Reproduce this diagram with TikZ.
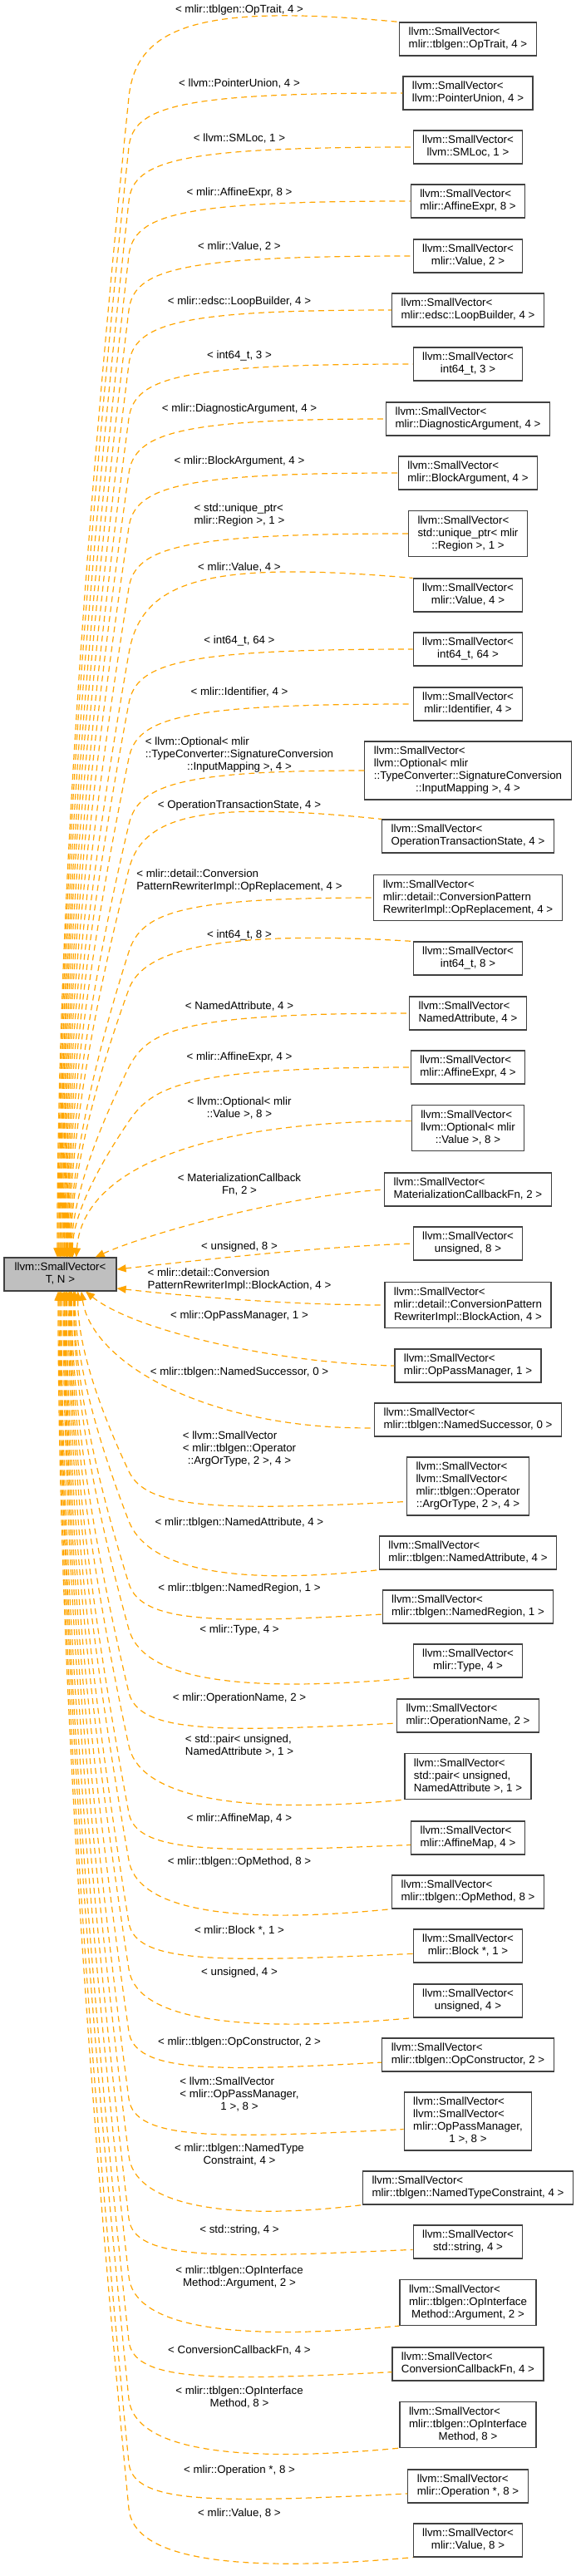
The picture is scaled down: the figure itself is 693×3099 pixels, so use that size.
\documentclass[tikz,border=0pt]{standalone}
\usepackage{fontspec}
\setmainfont{Liberation Sans}
\usetikzlibrary{arrows.meta}
\definecolor{inhorange}{HTML}{FFA500}
\newcommand{\tpl}[2]{\begin{tabular}{@{}l@{}}#1\\\multicolumn{1}{@{}c@{}}{#2}\end{tabular}}

\begin{document}
\begin{tikzpicture}[
    x=1pt, y=-1pt,
    cls/.style={draw=black!75, line width=1.2pt, fill=white, inner xsep=11pt, inner ysep=5pt,
                font=\fontsize{13.3}{15}\selectfont},
    arg/.style={inner sep=0pt, font=\fontsize{13.3}{15}\selectfont},
    inh/.style={{Triangle[length=11pt,width=9pt]}-, inhorange, line width=1.2pt, dash pattern=on 7pt off 5pt},
]
\useasboundingbox (0,0) rectangle (693,3099);

% Base template
\node[cls, fill=black!25, minimum width=135pt, minimum height=40pt] (base) at (72.5,1533) {\tpl{llvm::SmallVector<}{T, N >}};

% Instantiations
\node[cls] (b1)  at (563,47)   {\tpl{llvm::SmallVector<}{mlir::tblgen::OpTrait, 4 >}};
\node[cls] (b2)  at (563,112)  {\tpl{llvm::SmallVector<}{llvm::PointerUnion, 4 >}};
\node[cls] (b3)  at (563,177)  {\tpl{llvm::SmallVector<}{llvm::SMLoc, 1 >}};
\node[cls] (b4)  at (563,242)  {\tpl{llvm::SmallVector<}{mlir::AffineExpr, 8 >}};
\node[cls] (b5)  at (563,308)  {\tpl{llvm::SmallVector<}{mlir::Value, 2 >}};
\node[cls] (b6)  at (563,373)  {\tpl{llvm::SmallVector<}{mlir::edsc::LoopBuilder, 4 >}};
\node[cls] (b7)  at (563,438)  {\tpl{llvm::SmallVector<}{int64\_t, 3 >}};
\node[cls] (b8)  at (563,504)  {\tpl{llvm::SmallVector<}{mlir::DiagnosticArgument, 4 >}};
\node[cls] (b9)  at (563,569)  {\tpl{llvm::SmallVector<}{mlir::BlockArgument, 4 >}};
\node[cls] (b10) at (563,642)  {\tpl{llvm::SmallVector<\\std::unique\_ptr< mlir}{::Region >, 1 >}};
\node[cls] (b11) at (563,716)  {\tpl{llvm::SmallVector<}{mlir::Value, 4 >}};
\node[cls] (b12) at (563,781)  {\tpl{llvm::SmallVector<}{int64\_t, 64 >}};
\node[cls] (b13) at (563,847)  {\tpl{llvm::SmallVector<}{mlir::Identifier, 4 >}};
\node[cls] (b14) at (563,927)  {\tpl{llvm::SmallVector<\\llvm::Optional< mlir\\::TypeConverter::SignatureConversion}{::InputMapping >, 4 >}};
\node[cls] (b15) at (563,1006) {\tpl{llvm::SmallVector<}{OperationTransactionState, 4 >}};
\node[cls] (b16) at (563,1080) {\tpl{llvm::SmallVector<\\mlir::detail::ConversionPattern}{RewriterImpl::OpReplacement, 4 >}};
\node[cls] (b17) at (563,1153) {\tpl{llvm::SmallVector<}{int64\_t, 8 >}};
\node[cls] (b18) at (563,1219) {\tpl{llvm::SmallVector<}{NamedAttribute, 4 >}};
\node[cls] (b19) at (563,1284) {\tpl{llvm::SmallVector<}{mlir::AffineExpr, 4 >}};
\node[cls] (b20) at (563,1357) {\tpl{llvm::SmallVector<\\llvm::Optional< mlir}{::Value >, 8 >}};
\node[cls] (b21) at (563,1431) {\tpl{llvm::SmallVector<}{MaterializationCallbackFn, 2 >}};
\node[cls] (b22) at (563,1496) {\tpl{llvm::SmallVector<}{unsigned, 8 >}};
\node[cls] (b23) at (563,1570) {\tpl{llvm::SmallVector<\\mlir::detail::ConversionPattern}{RewriterImpl::BlockAction, 4 >}};
\node[cls] (b24) at (563,1643) {\tpl{llvm::SmallVector<}{mlir::OpPassManager, 1 >}};
\node[cls] (b25) at (563,1708) {\tpl{llvm::SmallVector<}{mlir::tblgen::NamedSuccessor, 0 >}};
\node[cls] (b26) at (563,1788) {\tpl{llvm::SmallVector<\\llvm::SmallVector<\\mlir::tblgen::Operator}{::ArgOrType, 2 >, 4 >}};
\node[cls] (b27) at (563,1868) {\tpl{llvm::SmallVector<}{mlir::tblgen::NamedAttribute, 4 >}};
\node[cls] (b28) at (563,1933) {\tpl{llvm::SmallVector<}{mlir::tblgen::NamedRegion, 1 >}};
\node[cls] (b29) at (563,1998) {\tpl{llvm::SmallVector<}{mlir::Type, 4 >}};
\node[cls] (b30) at (563,2064) {\tpl{llvm::SmallVector<}{mlir::OperationName, 2 >}};
\node[cls] (b31) at (563,2137) {\tpl{llvm::SmallVector<\\std::pair< unsigned,}{NamedAttribute >, 1 >}};
\node[cls] (b32) at (563,2211) {\tpl{llvm::SmallVector<}{mlir::AffineMap, 4 >}};
\node[cls] (b33) at (563,2276) {\tpl{llvm::SmallVector<}{mlir::tblgen::OpMethod, 8 >}};
\node[cls] (b34) at (563,2341) {\tpl{llvm::SmallVector<}{mlir::Block *, 1 >}};
\node[cls] (b35) at (563,2407) {\tpl{llvm::SmallVector<}{unsigned, 4 >}};
\node[cls] (b36) at (563,2472) {\tpl{llvm::SmallVector<}{mlir::tblgen::OpConstructor, 2 >}};
\node[cls] (b37) at (563,2552) {\tpl{llvm::SmallVector<\\llvm::SmallVector<\\mlir::OpPassManager,}{1 >, 8 >}};
\node[cls] (b38) at (563,2632) {\tpl{llvm::SmallVector<}{mlir::tblgen::NamedTypeConstraint, 4 >}};
\node[cls] (b39) at (563,2697) {\tpl{llvm::SmallVector<}{std::string, 4 >}};
\node[cls] (b40) at (563,2770) {\tpl{llvm::SmallVector<\\mlir::tblgen::OpInterface}{Method::Argument, 2 >}};
\node[cls] (b41) at (563,2844) {\tpl{llvm::SmallVector<}{ConversionCallbackFn, 4 >}};
\node[cls] (b42) at (563,2917) {\tpl{llvm::SmallVector<\\mlir::tblgen::OpInterface}{Method, 8 >}};
\node[cls] (b43) at (563,2991) {\tpl{llvm::SmallVector<}{mlir::Operation *, 8 >}};
\node[cls] (b44) at (563,3056) {\tpl{llvm::SmallVector<}{mlir::Value, 8 >}};

% Template arguments
\node[arg] (l1)  at (288,12)   {< mlir::tblgen::OpTrait, 4 >};
\node[arg] (l2)  at (288,101)  {< llvm::PointerUnion, 4 >};
\node[arg] (l3)  at (288,167)  {< llvm::SMLoc, 1 >};
\node[arg] (l4)  at (288,232)  {< mlir::AffineExpr, 8 >};
\node[arg] (l5)  at (288,297)  {< mlir::Value, 2 >};
\node[arg] (l6)  at (288,363)  {< mlir::edsc::LoopBuilder, 4 >};
\node[arg] (l7)  at (288,428)  {< int64\_t, 3 >};
\node[arg] (l8)  at (288,492)  {< mlir::DiagnosticArgument, 4 >};
\node[arg] (l9)  at (288,555)  {< mlir::BlockArgument, 4 >};
\node[arg] (l10) at (288,620)  {\tpl{< std::unique\_ptr<}{mlir::Region >, 1 >}};
\node[arg] (l11) at (288,683)  {< mlir::Value, 4 >};
\node[arg] (l12) at (288,771)  {< int64\_t, 64 >};
\node[arg] (l13) at (288,833)  {< mlir::Identifier, 4 >};
\node[arg] (l14) at (288,908)  {\tpl{< llvm::Optional< mlir\\::TypeConverter::SignatureConversion}{::InputMapping >, 4 >}};
\node[arg] (l15) at (288,969)  {< OperationTransactionState, 4 >};
\node[arg] (l16) at (288,1060) {\tpl{< mlir::detail::Conversion}{PatternRewriterImpl::OpReplacement, 4 >}};
\node[arg] (l17) at (288,1125) {< int64\_t, 8 >};
\node[arg] (l18) at (288,1211) {< NamedAttribute, 4 >};
\node[arg] (l19) at (288,1272) {< mlir::AffineExpr, 4 >};
\node[arg] (l20) at (288,1334) {\tpl{< llvm::Optional< mlir}{::Value >, 8 >}};
\node[arg] (l21) at (288,1426) {\tpl{< MaterializationCallback}{Fn, 2 >}};
\node[arg] (l22) at (288,1500) {< unsigned, 8 >};
\node[arg] (l23) at (288,1540) {\tpl{< mlir::detail::Conversion}{PatternRewriterImpl::BlockAction, 4 >}};
\node[arg] (l24) at (288,1583) {< mlir::OpPassManager, 1 >};
\node[arg] (l25) at (288,1651) {< mlir::tblgen::NamedSuccessor, 0 >};
\node[arg] (l26) at (288,1743) {\tpl{< llvm::SmallVector\\< mlir::tblgen::Operator}{::ArgOrType, 2 >, 4 >}};
\node[arg] (l27) at (288,1832) {< mlir::tblgen::NamedAttribute, 4 >};
\node[arg] (l28) at (288,1911) {< mlir::tblgen::NamedRegion, 1 >};
\node[arg] (l29) at (288,1961) {< mlir::Type, 4 >};
\node[arg] (l30) at (288,2043) {< mlir::OperationName, 2 >};
\node[arg] (l31) at (288,2101) {\tpl{< std::pair< unsigned,}{NamedAttribute >, 1 >}};
\node[arg] (l32) at (288,2188) {< mlir::AffineMap, 4 >};
\node[arg] (l33) at (288,2240) {< mlir::tblgen::OpMethod, 8 >};
\node[arg] (l34) at (288,2323) {< mlir::Block *, 1 >};
\node[arg] (l35) at (288,2373) {< unsigned, 4 >};
\node[arg] (l36) at (288,2457) {< mlir::tblgen::OpConstructor, 2 >};
\node[arg] (l37) at (288,2520) {\tpl{< llvm::SmallVector\\< mlir::OpPassManager,}{1 >, 8 >}};
\node[arg] (l38) at (288,2593) {\tpl{< mlir::tblgen::NamedType}{Constraint, 4 >}};
\node[arg] (l39) at (288,2683) {< std::string, 4 >};
\node[arg] (l40) at (288,2740) {\tpl{< mlir::tblgen::OpInterface}{Method::Argument, 2 >}};
\node[arg] (l41) at (288,2827) {< ConversionCallbackFn, 4 >};
\node[arg] (l42) at (288,2885) {\tpl{< mlir::tblgen::OpInterface}{Method, 8 >}};
\node[arg] (l43) at (288,2972) {< mlir::Operation *, 8 >};
\node[arg] (l44) at (288,3023) {< mlir::Value, 8 >};

% Inheritance arrows, upper bundle
\draw[inh] (base.100) .. controls (69,1141) and (98,675) .. (155,117) .. controls (164,27) and (250,5) .. (b1.north west);
\draw[inh] (base.97) .. controls (70,1157) and (98,711) .. (155,177) .. controls (160,127) and (220,112) .. (b2.west);
\draw[inh] (base.94) .. controls (71,1174) and (99,750) .. (155,242) .. controls (160,192) and (220,177) .. (b3.west);
\draw[inh] (base.91) .. controls (72,1191) and (100,789) .. (155,307) .. controls (161,257) and (220,242) .. (b4.west);
\draw[inh] (base.89) .. controls (73,1209) and (100,829) .. (155,373) .. controls (161,323) and (220,308) .. (b5.west);
\draw[inh] (base.86) .. controls (74,1226) and (101,868) .. (155,438) .. controls (161,388) and (220,373) .. (b6.west);
\draw[inh] (base.83) .. controls (75,1244) and (102,907) .. (155,503) .. controls (162,453) and (220,438) .. (b7.west);
\draw[inh] (base.80) .. controls (76,1261) and (102,947) .. (155,569) .. controls (162,520) and (220,504) .. (b8.west);
\draw[inh] (base.77) .. controls (77,1279) and (103,986) .. (155,634) .. controls (162,585) and (220,569) .. (b9.west);
\draw[inh] (base.75) .. controls (78,1298) and (104,1029) .. (155,707) .. controls (163,658) and (220,642) .. (b10.west);
\draw[inh] (base.72) .. controls (79,1319) and (104,1077) .. (155,786) .. controls (170,697) and (250,674) .. (b11.north west);
\draw[inh] (base.69) .. controls (80,1335) and (105,1113) .. (155,846) .. controls (164,797) and (220,781) .. (b12.west);
\draw[inh] (base.67) .. controls (81,1353) and (106,1152) .. (155,912) .. controls (165,863) and (220,847) .. (b13.west);
\draw[inh] (base.65) .. controls (82,1374) and (106,1200) .. (155,992) .. controls (166,943) and (220,927) .. (b14.west);
\draw[inh] (base.62) .. controls (83,1388) and (107,1233) .. (155,1046) .. controls (172,978) and (250,964) .. (b15.north west);
\draw[inh] (base.60) .. controls (84,1415) and (108,1292) .. (155,1145) .. controls (170,1097) and (220,1080) .. (b16.west);
\draw[inh] (base.58) .. controls (85,1427) and (108,1319) .. (155,1190) .. controls (172,1143) and (260,1118) .. (b17.north west);
\draw[inh] (base.56) .. controls (86,1452) and (109,1376) .. (155,1284) .. controls (178,1239) and (220,1219) .. (b18.west);
\draw[inh] (base.54) .. controls (87,1469) and (110,1415) .. (155,1349) .. controls (183,1308) and (220,1284) .. (b19.west);
\draw[inh] (base.47) .. controls (100,1400) and (260,1348) .. (b20.173);
\draw[inh] (base.26) .. controls (170,1487) and (330,1440) .. (b21.west);
\draw[inh] (base.5) .. controls (250,1515) and (380,1500) .. (b22.west);

% Inheritance arrows, lower bundle
\draw[inh] (base.346) .. controls (250,1562) and (360,1570) .. (b23.west);
\draw[inh] (base.326) .. controls (160,1600) and (330,1640) .. (b24.west);
\draw[inh] (base.321) .. controls (110,1640) and (250,1720) .. (b25.185);
\draw[inh] (base.316) .. controls (93,1611) and (114,1683) .. (155,1770) .. controls (176,1815) and (260,1818) .. (b26.194);
\draw[inh] (base.311) .. controls (90,1627) and (112,1719) .. (155,1830) .. controls (175,1881) and (260,1910) .. (b27.south west);
\draw[inh] (base.309) .. controls (89,1647) and (111,1764) .. (155,1905) .. controls (170,1953) and (260,1953) .. (b28.185);
\draw[inh] (base.308) .. controls (88,1662) and (110,1797) .. (155,1960) .. controls (170,2013) and (260,2040) .. (b29.south west);
\draw[inh] (base.304) .. controls (86,1682) and (109,1843) .. (155,2036) .. controls (167,2085) and (260,2084) .. (b30.186);
\draw[inh] (base.302) .. controls (85,1699) and (108,1881) .. (155,2100) .. controls (166,2154) and (260,2186) .. (b31.south west);
\draw[inh] (base.300) .. controls (84,1720) and (108,1930) .. (155,2181) .. controls (164,2230) and (260,2229) .. (b32.187);
\draw[inh] (base.298) .. controls (83,1736) and (107,1964) .. (155,2238) .. controls (164,2292) and (260,2318) .. (b33.south west);
\draw[inh] (base.295) .. controls (82,1756) and (106,2009) .. (155,2313) .. controls (163,2362) and (260,2361) .. (b34.188);
\draw[inh] (base.291) .. controls (80,1771) and (105,2043) .. (155,2369) .. controls (163,2423) and (260,2449) .. (b35.south west);
\draw[inh] (base.288) .. controls (79,1791) and (104,2088) .. (155,2444) .. controls (162,2494) and (260,2492) .. (b36.185);
\draw[inh] (base.285) .. controls (78,1812) and (104,2136) .. (155,2525) .. controls (162,2575) and (260,2573) .. (b37.187);
\draw[inh] (base.283) .. controls (77,1831) and (103,2178) .. (155,2594) .. controls (162,2649) and (260,2674) .. (b38.south west);
\draw[inh] (base.280) .. controls (76,1851) and (102,2223) .. (155,2669) .. controls (161,2719) and (260,2717) .. (b39.188);
\draw[inh] (base.274) .. controls (74,1869) and (101,2265) .. (155,2739) .. controls (161,2794) and (260,2819) .. (b40.south west);
\draw[inh] (base.271) .. controls (73,1890) and (100,2311) .. (155,2816) .. controls (160,2866) and (260,2864) .. (b41.186);
\draw[inh] (base.269) .. controls (72,1908) and (100,2353) .. (155,2886) .. controls (161,2941) and (260,2966) .. (b42.south west);
\draw[inh] (base.266) .. controls (71,1929) and (99,2399) .. (155,2963) .. controls (160,3013) and (260,3011) .. (b43.187);
\draw[inh] (base.263) .. controls (70,1944) and (98,2432) .. (155,3018) .. controls (160,3073) and (260,3098) .. (b44.south west);
\end{tikzpicture}
\end{document}
